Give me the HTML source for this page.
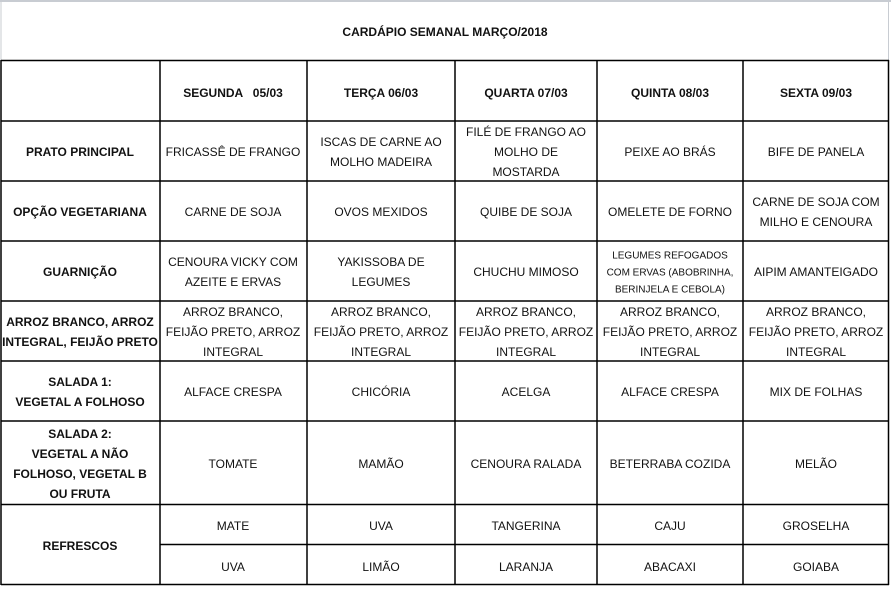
<!DOCTYPE html>
<html><head><meta charset="utf-8"><style>
html,body{margin:0;padding:0;background:#fff;}
svg{display:block;}
text{font-family:"Liberation Sans",Arial,sans-serif;font-size:12px;fill:#111;text-anchor:middle;dominant-baseline:middle;}
.b{font-weight:bold;}
.s{font-size:10px;}
</style></head><body>
<svg width="891" height="589" viewBox="0 0 891 589">
<rect x="0" y="0" width="891" height="589" fill="#fff"/>
<line x1="0" y1="1" x2="891" y2="1" stroke="#c8ccd2" stroke-width="2"/>
<line x1="1" y1="0" x2="1" y2="60" stroke="#c8ccd2" stroke-width="1"/>
<line x1="888.5" y1="0" x2="888.5" y2="60" stroke="#c8ccd2" stroke-width="1"/>
<g stroke="#000" stroke-width="1.5">
<line x1="1" y1="60.5" x2="889" y2="60.5"/>
<line x1="1" y1="121" x2="889" y2="121"/>
<line x1="1" y1="181" x2="889" y2="181"/>
<line x1="1" y1="241" x2="889" y2="241"/>
<line x1="1" y1="301" x2="889" y2="301"/>
<line x1="1" y1="361" x2="889" y2="361"/>
<line x1="1" y1="421" x2="889" y2="421"/>
<line x1="1" y1="504.5" x2="889" y2="504.5"/>
<line x1="160" y1="544.5" x2="889" y2="544.5"/>
<line x1="1" y1="584.5" x2="889" y2="584.5"/>
<line x1="1" y1="60" x2="1" y2="585"/>
<line x1="160" y1="60" x2="160" y2="585"/>
<line x1="307" y1="60" x2="307" y2="585"/>
<line x1="455" y1="60" x2="455" y2="585"/>
<line x1="597" y1="60" x2="597" y2="585"/>
<line x1="743" y1="60" x2="743" y2="585"/>
<line x1="888.5" y1="60" x2="888.5" y2="585"/>
</g>
<g transform="translate(0,2)">
<text class="b" x="445" y="31">CARDÁPIO SEMANAL MARÇO/2018</text>
<text class="b" x="233" y="92" xml:space="preserve">SEGUNDA   05/03</text>
<text class="b" x="381" y="92">TERÇA 06/03</text>
<text class="b" x="526" y="92">QUARTA 07/03</text>
<text class="b" x="670" y="92">QUINTA 08/03</text>
<text class="b" x="816" y="92">SEXTA 09/03</text>

<text class="b" x="80" y="151">PRATO PRINCIPAL</text>
<text x="233" y="151">FRICASSÊ DE FRANGO</text>
<text x="381" y="141">ISCAS DE CARNE AO</text>
<text x="381" y="161">MOLHO MADEIRA</text>
<text x="526" y="131">FILÉ DE FRANGO AO</text>
<text x="526" y="151">MOLHO DE</text>
<text x="526" y="171">MOSTARDA</text>
<text x="670" y="151">PEIXE AO BRÁS</text>
<text x="816" y="151">BIFE DE PANELA</text>

<text class="b" x="80" y="211">OPÇÃO VEGETARIANA</text>
<text x="233" y="211">CARNE DE SOJA</text>
<text x="381" y="211">OVOS MEXIDOS</text>
<text x="526" y="211">QUIBE DE SOJA</text>
<text x="670" y="211">OMELETE DE FORNO</text>
<text x="816" y="201">CARNE DE SOJA COM</text>
<text x="816" y="221">MILHO E  CENOURA</text>

<text class="b" x="80" y="271">GUARNIÇÃO</text>
<text x="233" y="261">CENOURA VICKY COM</text>
<text x="233" y="281">AZEITE E ERVAS</text>
<text x="381" y="261">YAKISSOBA DE</text>
<text x="381" y="281">LEGUMES</text>
<text x="526" y="271">CHUCHU MIMOSO</text>
<text class="s" x="670" y="254">LEGUMES REFOGADOS</text>
<text class="s" x="670" y="271">COM ERVAS (ABOBRINHA,</text>
<text class="s" x="670" y="288">BERINJELA E CEBOLA)</text>
<text x="816" y="271">AIPIM AMANTEIGADO</text>

<text class="b" x="80" y="321">ARROZ BRANCO, ARROZ</text>
<text class="b" x="80" y="341">INTEGRAL, FEIJÃO PRETO</text>
<text x="233" y="311">ARROZ BRANCO,</text><text x="233" y="331">FEIJÃO PRETO, ARROZ</text><text x="233" y="351">INTEGRAL</text>
<text x="381" y="311">ARROZ BRANCO,</text><text x="381" y="331">FEIJÃO PRETO, ARROZ</text><text x="381" y="351">INTEGRAL</text>
<text x="526" y="311">ARROZ BRANCO,</text><text x="526" y="331">FEIJÃO PRETO, ARROZ</text><text x="526" y="351">INTEGRAL</text>
<text x="670" y="311">ARROZ BRANCO,</text><text x="670" y="331">FEIJÃO PRETO, ARROZ</text><text x="670" y="351">INTEGRAL</text>
<text x="816" y="311">ARROZ BRANCO,</text><text x="816" y="331">FEIJÃO PRETO, ARROZ</text><text x="816" y="351">INTEGRAL</text>

<text class="b" x="80" y="381">SALADA 1:</text>
<text class="b" x="80" y="401">VEGETAL A FOLHOSO</text>
<text x="233" y="391">ALFACE CRESPA</text>
<text x="381" y="391">CHICÓRIA</text>
<text x="526" y="391">ACELGA</text>
<text x="670" y="391">ALFACE CRESPA</text>
<text x="816" y="391">MIX DE FOLHAS</text>

<text class="b" x="80" y="433">SALADA 2:</text>
<text class="b" x="80" y="453">VEGETAL A NÃO</text>
<text class="b" x="80" y="473">FOLHOSO, VEGETAL B</text>
<text class="b" x="80" y="493">OU FRUTA</text>
<text x="233" y="463">TOMATE</text>
<text x="381" y="463">MAMÃO</text>
<text x="526" y="463">CENOURA RALADA</text>
<text x="670" y="463">BETERRABA COZIDA</text>
<text x="816" y="463">MELÃO</text>

<text class="b" x="80" y="545">REFRESCOS</text>
<text x="233" y="525">MATE</text>
<text x="381" y="525">UVA</text>
<text x="526" y="525">TANGERINA</text>
<text x="670" y="525">CAJU</text>
<text x="816" y="525">GROSELHA</text>
<text x="233" y="566">UVA</text>
<text x="381" y="566">LIMÃO</text>
<text x="526" y="566">LARANJA</text>
<text x="670" y="566">ABACAXI</text>
<text x="816" y="566">GOIABA</text>
</g>
</svg>
</body></html>
